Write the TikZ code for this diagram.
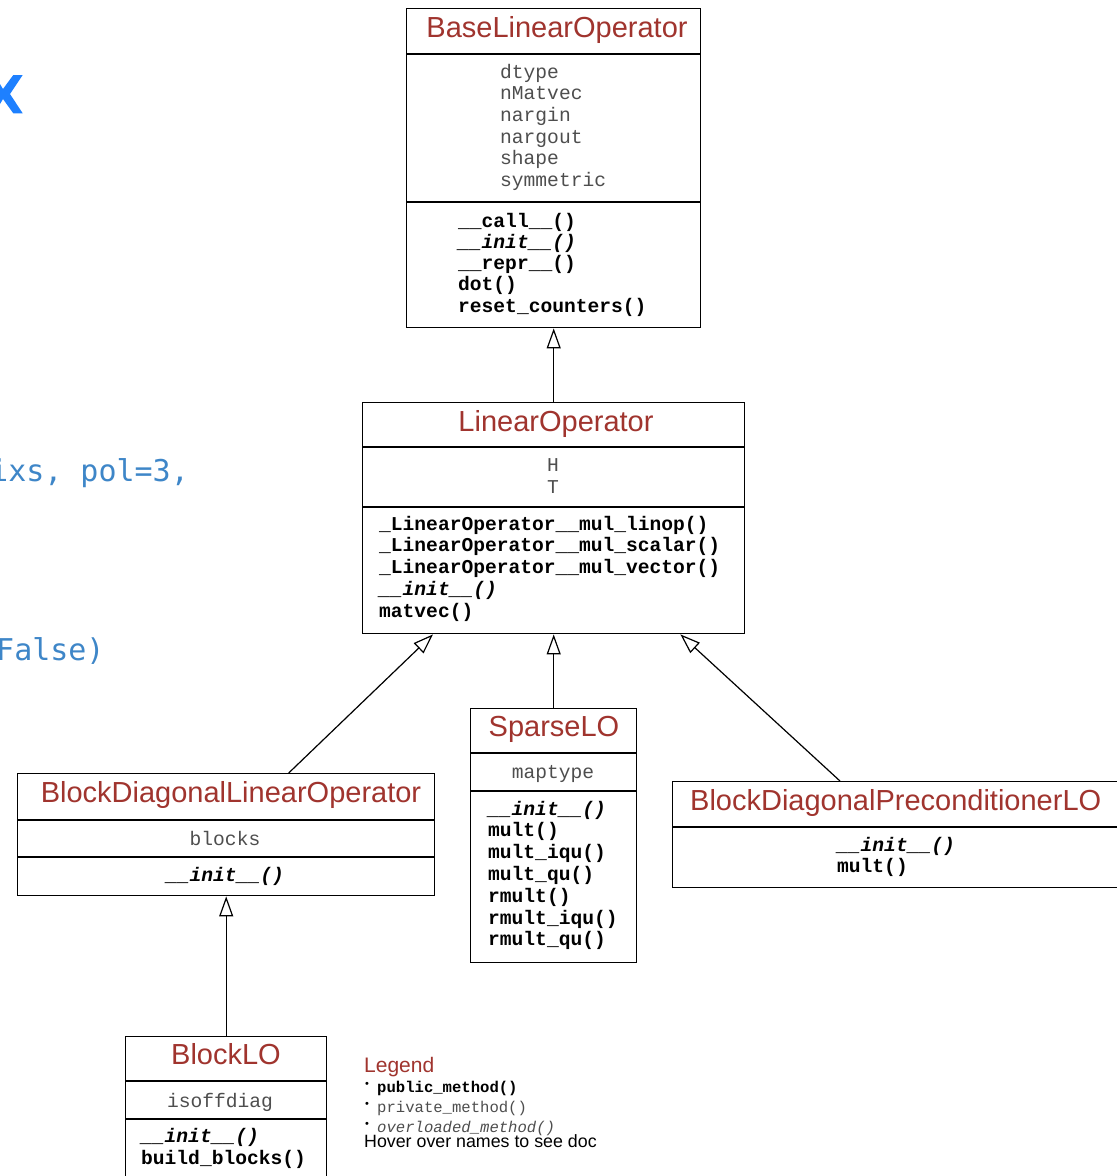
\documentclass[tikz,border=0pt]{standalone}
\usepackage{fontspec}
\usetikzlibrary{arrows.meta,calc}
\newfontfamily\titlef{Liberation Sans}
\newfontfamily\monof{Liberation Mono}
\newfontfamily\bluef{DejaVu Sans Mono}
\definecolor{titlered}{RGB}{160,52,46}
\definecolor{attrgray}{RGB}{78,78,78}
\definecolor{codeblue}{RGB}{62,134,200}
\definecolor{logoblue}{RGB}{30,128,255}
\tikzset{
  cls/.style={draw, line width=1.4pt, inner sep=0pt, anchor=north west},
  divline/.style={line width=1.4pt},
  ctitle/.style={font=\titlef\fontsize{29}{30}\selectfont, text=titlered, anchor=base, inner sep=0pt},
  attr/.style={font=\monof\fontsize{19.6}{20}\selectfont, text=attrgray, anchor=base west, inner sep=0pt},
  meth/.style={font=\monof\bfseries\fontsize{19.6}{20}\selectfont, anchor=base west, inner sep=0pt},
  ometh/.style={font=\monof\bfseries\itshape\fontsize{19.6}{20}\selectfont, anchor=base west, inner sep=0pt},
  inh/.style={line width=1.2pt, -{Triangle[open, length=20pt, width=14pt, line width=1.2pt]}},
  legtitle/.style={font=\titlef\fontsize{21}{22}\selectfont, text=titlered, anchor=base west, inner sep=0pt},
  legitem/.style={font=\monof\fontsize{15.6}{16}\selectfont, anchor=base west, inner sep=0pt},
  legbullet/.style={font=\titlef\fontsize{11}{12}\selectfont, anchor=center, inner sep=0pt},
  bluecode/.style={font=\bluef\fontsize{30}{31}\selectfont, text=codeblue, anchor=base west, inner sep=0pt},
}
\begin{document}
\begin{tikzpicture}[x=1pt, y=-1pt]
\useasboundingbox (0,0) rectangle (1117,1176);
\clip (0,0) rectangle (1117,1176);
\fill[white] (0,0) rectangle (1117,1176);

% background fragments
\fill[logoblue] (13.3,75) -- (22.7,75) -- (10,94) -- (22.7,113.3) -- (13.3,113.3) -- (3,99) -- (0,104) -- (0,84) -- (3,89) -- cycle;
\node[bluecode] (frag1) at (-10,481) {ixs, pol=3,};
\node[bluecode] (frag2) at (-4,660) {False)};

% BaseLinearOperator
\node[cls, minimum width=294pt, minimum height=319pt] (base) at (406,8) {};
\draw[divline] (406,54) -- (700,54);
\draw[divline] (406,202) -- (700,202);
\node[ctitle] (baset) at (557,37) {BaseLinearOperator};
\node[attr] (ba1) at (500,78) {dtype};
\node[attr] (ba2) at (500,99.7) {nMatvec};
\node[attr] (ba3) at (500,121.4) {nargin};
\node[attr] (ba4) at (500,143.1) {nargout};
\node[attr] (ba5) at (500,164.8) {shape};
\node[attr] (ba6) at (500,186.5) {symmetric};
\node[meth] (bm1) at (458,227) {\_\_call\_\_()};
\node[ometh] (bm2) at (458,248.3) {\_\_init\_\_()};
\node[meth] (bm3) at (458,269.6) {\_\_repr\_\_()};
\node[meth] (bm4) at (458,290.9) {dot()};
\node[meth] (bm5) at (458,312.2) {reset\_counters()};

% LinearOperator
\node[cls, minimum width=382pt, minimum height=231pt] (lin) at (362,402) {};
\draw[divline] (362,447) -- (744,447);
\draw[divline] (362,507) -- (744,507);
\node[ctitle] (lint) at (556,431) {LinearOperator};
\node[attr, anchor=base] (la1) at (553,471.5) {H};
\node[attr, anchor=base] (la2) at (553,493.3) {T};
\node[meth] (lm1) at (379,530) {\_LinearOperator\_\_mul\_linop()};
\node[meth] (lm2) at (379,551.8) {\_LinearOperator\_\_mul\_scalar()};
\node[meth] (lm3) at (379,573.6) {\_LinearOperator\_\_mul\_vector()};
\node[ometh] (lm4) at (379,595.4) {\_\_init\_\_()};
\node[meth] (lm5) at (379,617.2) {matvec()};

% SparseLO
\node[cls, minimum width=166pt, minimum height=254pt] (sparse) at (470,708) {};
\draw[divline] (470,753) -- (636,753);
\draw[divline] (470,791) -- (636,791);
\node[ctitle] (spt) at (554,736) {SparseLO};
\node[attr, anchor=base] (sa1) at (553,778) {maptype};
\node[ometh] (sm1) at (488,815) {\_\_init\_\_()};
\node[meth] (sm2) at (488,836.8) {mult()};
\node[meth] (sm3) at (488,858.6) {mult\_iqu()};
\node[meth] (sm4) at (488,880.4) {mult\_qu()};
\node[meth] (sm5) at (488,902.2) {rmult()};
\node[meth] (sm6) at (488,924) {rmult\_iqu()};
\node[meth] (sm7) at (488,945.8) {rmult\_qu()};

% BlockDiagonalLinearOperator
\node[cls, minimum width=417pt, minimum height=122pt] (bdlo) at (17,773) {};
\draw[divline] (17,820) -- (434,820);
\draw[divline] (17,857) -- (434,857);
\node[ctitle] (bdlot) at (231,802) {BlockDiagonalLinearOperator};
\node[attr, anchor=base] (bda1) at (225,845) {blocks};
\node[ometh, anchor=base] (bdm1) at (225,881.5) {\_\_init\_\_()};

% BlockDiagonalPreconditionerLO
\node[cls, minimum width=463pt, minimum height=106pt] (bdplo) at (672,781) {};
\draw[divline] (672,827) -- (1135,827);
\node[ctitle, anchor=base west] (bdplot) at (690,810) {BlockDiagonalPreconditionerLO};
\node[ometh] (pm1) at (837,851) {\_\_init\_\_()};
\node[meth] (pm2) at (837,872) {mult()};

% BlockLO
\node[cls, minimum width=201pt, minimum height=154pt] (blocklo) at (125,1036) {};
\draw[divline] (125,1081) -- (326,1081);
\draw[divline] (125,1119) -- (326,1119);
\node[ctitle] (blt) at (226,1064) {BlockLO};
\node[attr, anchor=base] (bla1) at (220,1107) {isoffdiag};
\node[ometh] (blm1) at (141,1142) {\_\_init\_\_()};
\node[meth] (blm2) at (141,1164) {build\_blocks()};

% inheritance arrows
\draw[inh] (lin.north) -- (base.south);
\draw[inh] (sparse.north) -- (lin.south);
\draw[inh] ([xshift=62.5pt]bdlo.north) -- ([xshift=71pt]lin.south west);
\draw[inh] ([xshift=168pt]bdplo.north west) -- ([xshift=-65pt]lin.south east);
\draw[inh] (blocklo.north) -- (bdlo.south);

% legend
\node[legtitle] (legt) at (364,1072) {Legend};
\node[legbullet] (b1) at (367,1085) {•};
\node[legbullet] (b2) at (367,1105) {•};
\node[legbullet] (b3) at (367,1125) {•};
\node[legitem, font=\monof\bfseries\fontsize{15.6}{16}\selectfont] (leg1) at (377,1092) {public\_method()};
\node[legitem, text=attrgray] (leg2) at (377,1112) {private\_method()};
\node[legitem, text=attrgray, font=\monof\itshape\fontsize{15.6}{16}\selectfont] (leg3) at (377,1132) {overloaded\_method()};
\node[font=\titlef\fontsize{17.8}{18}\selectfont, anchor=base west, inner sep=0pt] (hover) at (364,1147) {Hover over names to see doc};
\end{tikzpicture}
\end{document}
